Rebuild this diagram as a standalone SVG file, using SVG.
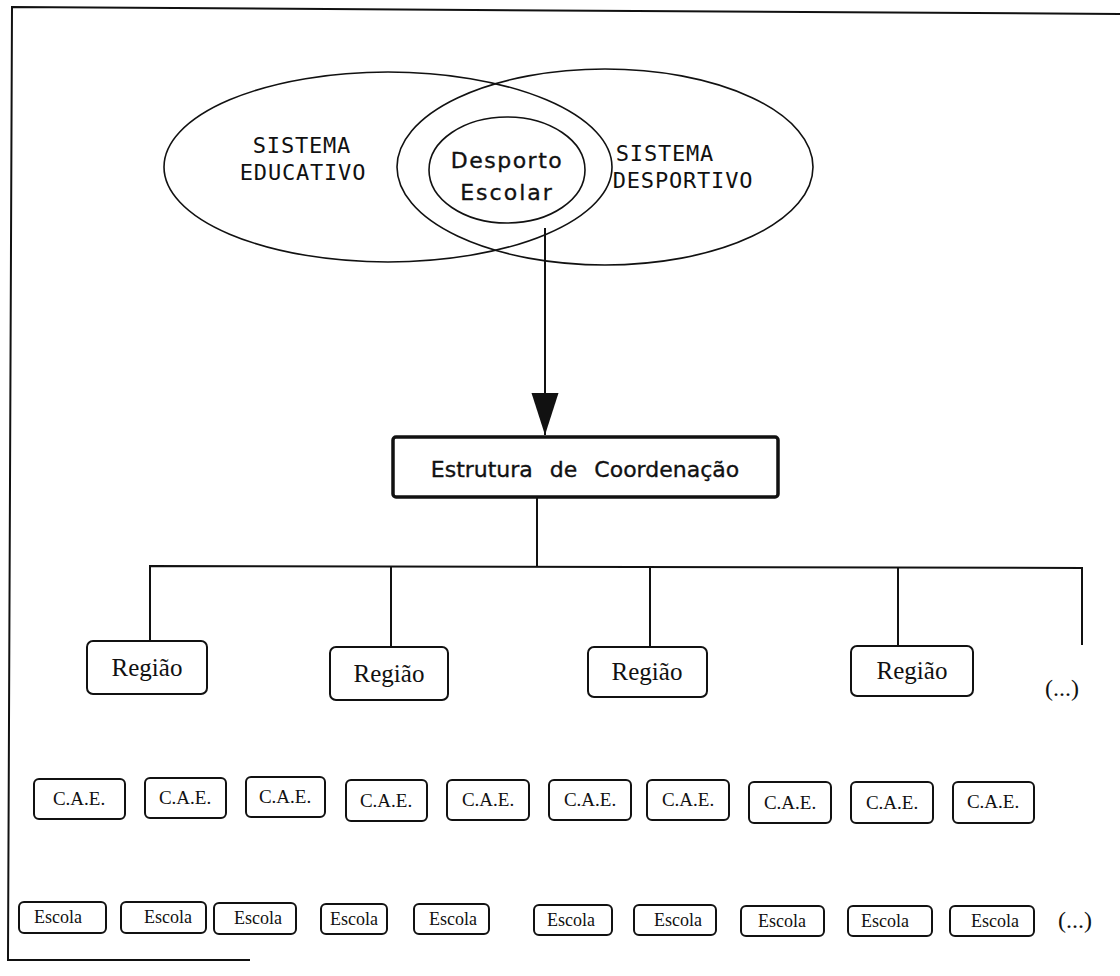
<svg xmlns="http://www.w3.org/2000/svg" width="1120" height="976" viewBox="0 0 1120 976">
<style>
.bg{fill:#ffffff}
.ell{fill:none;stroke:#111;stroke-width:1.6}
.line{fill:none;stroke:#111;stroke-width:2}
.box{fill:#fff;stroke:#111;stroke-width:2}
.mono{font-family:"DejaVu Sans Mono","Liberation Mono",monospace;font-size:22px;fill:#111;letter-spacing:0.8px}
.sans{font-family:"DejaVu Sans","Liberation Sans",sans-serif;fill:#111;stroke:#111;stroke-width:0.35}
.serif{font-family:"Liberation Serif","DejaVu Serif",serif;fill:#111}
.reg{font-size:25px}
.cae{font-size:19px}
.esc{font-size:18px}
</style>
<defs>
<marker id="arrow" markerWidth="42" markerHeight="28" refX="42" refY="13.5" orient="auto" markerUnits="userSpaceOnUse" viewBox="0 0 42 27">
<path d="M0,0 L42,13.5 L0,27 Z" fill="#111"/>
</marker>
</defs>
<rect class="bg" x="0" y="0" width="1120" height="976"/>
<g id="frame">
<polyline class="line" points="1120,14 12,7 8,960 250,960"/>
</g>
<g id="sistema-educativo">
<ellipse class="ell" cx="388" cy="167" rx="224" ry="95"/>
<text class="mono" x="302" y="153" text-anchor="middle">SISTEMA</text>
<text class="mono" x="303" y="180" text-anchor="middle">EDUCATIVO</text>
</g>
<g id="sistema-desportivo">
<ellipse class="ell" cx="605" cy="167" rx="208" ry="98"/>
<text class="mono" x="665" y="161" text-anchor="middle">SISTEMA</text>
<text class="mono" x="683" y="188" text-anchor="middle">DESPORTIVO</text>
</g>
<g id="desporto-escolar">
<ellipse class="ell" cx="507" cy="170" rx="78" ry="53"/>
<text class="sans" x="507" y="168" text-anchor="middle" font-size="22" letter-spacing="1.5">Desporto</text>
<text class="sans" x="507" y="200" text-anchor="middle" font-size="22" letter-spacing="2">Escolar</text>
</g>
<g id="estrutura">
<rect x="393" y="437" width="385" height="60" rx="3" fill="#fff" stroke="#111" stroke-width="3.5"/>
<text class="sans" x="585" y="477" text-anchor="middle" font-size="22" word-spacing="10">Estrutura de Coordenação</text>
</g>
<g id="connectors">
<line class="line" x1="545" y1="228" x2="545" y2="435" marker-end="url(#arrow)"/>
<line class="line" x1="537" y1="497" x2="537" y2="567"/>
<polyline class="line" points="150,640 150,566 1082,568 1082,645"/>
<line class="line" x1="391" y1="566" x2="391" y2="647"/>
<line class="line" x1="650" y1="567" x2="650" y2="647"/>
<line class="line" x1="898" y1="568" x2="898" y2="646"/>
</g>
<g id="regiao-1"><rect class="box" x="87" y="641" width="120" height="53" rx="6"/><text class="serif reg" x="147" y="676" text-anchor="middle">Região</text></g>
<g id="regiao-2"><rect class="box" x="330" y="647" width="118" height="53" rx="6"/><text class="serif reg" x="389" y="682" text-anchor="middle">Região</text></g>
<g id="regiao-3"><rect class="box" x="588" y="647" width="119" height="50" rx="6"/><text class="serif reg" x="647" y="680" text-anchor="middle">Região</text></g>
<g id="regiao-4"><rect class="box" x="851" y="646" width="122" height="50" rx="6"/><text class="serif reg" x="912" y="679" text-anchor="middle">Região</text></g>
<g id="more-1"><text class="serif" x="1062" y="696" text-anchor="middle" font-size="24">(...)</text></g>
<g id="cae-1"><rect class="box" x="34" y="779" width="91" height="40" rx="5"/><text class="serif cae" x="79" y="805" text-anchor="middle">C.A.E.</text></g>
<g id="cae-2"><rect class="box" x="145" y="778" width="81" height="40" rx="5"/><text class="serif cae" x="185" y="804" text-anchor="middle">C.A.E.</text></g>
<g id="cae-3"><rect class="box" x="246" y="777" width="79" height="40" rx="5"/><text class="serif cae" x="285" y="803" text-anchor="middle">C.A.E.</text></g>
<g id="cae-4"><rect class="box" x="346" y="780" width="81" height="41" rx="5"/><text class="serif cae" x="386" y="807" text-anchor="middle">C.A.E.</text></g>
<g id="cae-5"><rect class="box" x="447" y="780" width="82" height="40" rx="5"/><text class="serif cae" x="488" y="806" text-anchor="middle">C.A.E.</text></g>
<g id="cae-6"><rect class="box" x="549" y="780" width="82" height="40" rx="5"/><text class="serif cae" x="590" y="806" text-anchor="middle">C.A.E.</text></g>
<g id="cae-7"><rect class="box" x="647" y="780" width="82" height="40" rx="5"/><text class="serif cae" x="688" y="806" text-anchor="middle">C.A.E.</text></g>
<g id="cae-8"><rect class="box" x="749" y="782" width="82" height="41" rx="5"/><text class="serif cae" x="790" y="809" text-anchor="middle">C.A.E.</text></g>
<g id="cae-9"><rect class="box" x="851" y="782" width="82" height="41" rx="5"/><text class="serif cae" x="892" y="809" text-anchor="middle">C.A.E.</text></g>
<g id="cae-10"><rect class="box" x="953" y="782" width="81" height="41" rx="5"/><text class="serif cae" x="993" y="808" text-anchor="middle">C.A.E.</text></g>
<g id="escola-1"><rect class="box" x="19" y="902" width="87" height="31" rx="5"/><text class="serif esc" x="58" y="923" text-anchor="middle">Escola</text></g>
<g id="escola-2"><rect class="box" x="121" y="902" width="85" height="31" rx="5"/><text class="serif esc" x="168" y="923" text-anchor="middle">Escola</text></g>
<g id="escola-3"><rect class="box" x="214" y="903" width="82" height="31" rx="5"/><text class="serif esc" x="258" y="924" text-anchor="middle">Escola</text></g>
<g id="escola-4"><rect class="box" x="321" y="904" width="66" height="30" rx="5"/><text class="serif esc" x="354" y="925" text-anchor="middle">Escola</text></g>
<g id="escola-5"><rect class="box" x="414" y="904" width="75" height="30" rx="5"/><text class="serif esc" x="453" y="925" text-anchor="middle">Escola</text></g>
<g id="escola-6"><rect class="box" x="534" y="905" width="78" height="30" rx="5"/><text class="serif esc" x="571" y="926" text-anchor="middle">Escola</text></g>
<g id="escola-7"><rect class="box" x="634" y="905" width="82" height="30" rx="5"/><text class="serif esc" x="678" y="926" text-anchor="middle">Escola</text></g>
<g id="escola-8"><rect class="box" x="741" y="906" width="83" height="30" rx="5"/><text class="serif esc" x="782" y="927" text-anchor="middle">Escola</text></g>
<g id="escola-9"><rect class="box" x="848" y="906" width="84" height="30" rx="5"/><text class="serif esc" x="885" y="927" text-anchor="middle">Escola</text></g>
<g id="escola-10"><rect class="box" x="950" y="906" width="84" height="30" rx="5"/><text class="serif esc" x="995" y="927" text-anchor="middle">Escola</text></g>
<g id="more-2"><text class="serif" x="1075" y="928" text-anchor="middle" font-size="24">(...)</text></g>
</svg>
